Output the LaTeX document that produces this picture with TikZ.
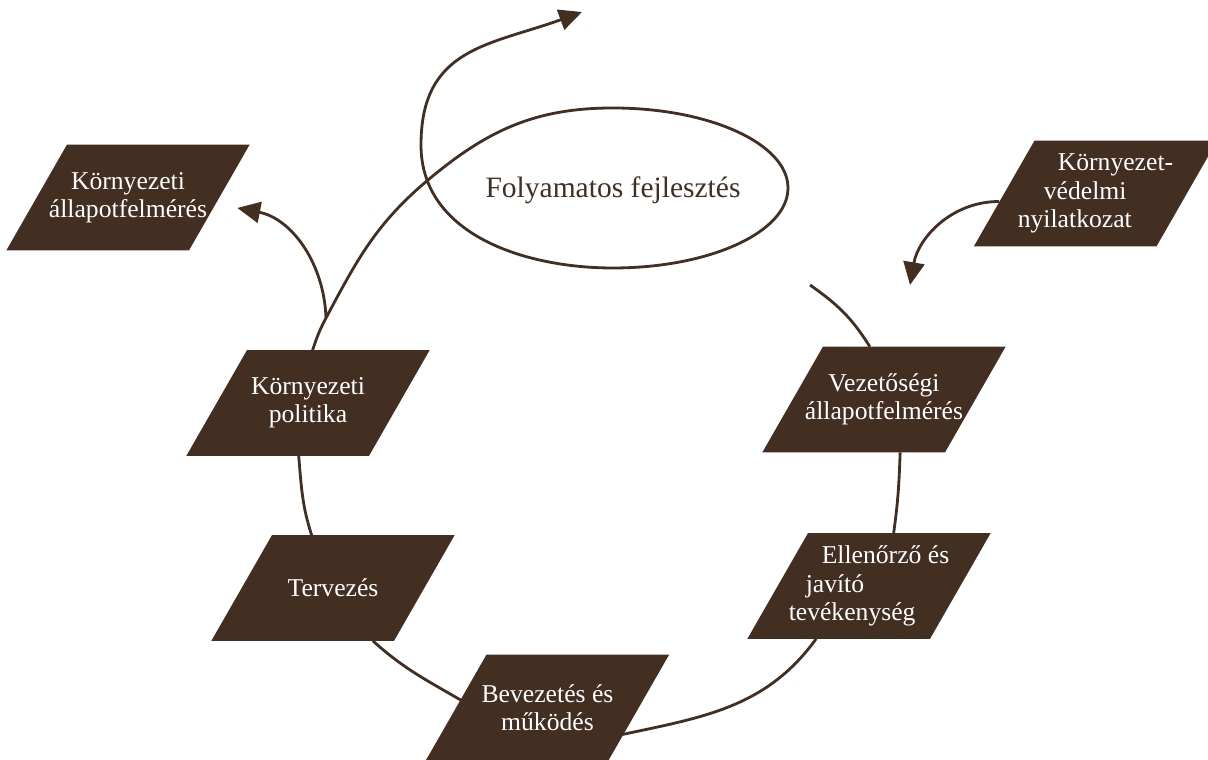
\documentclass[tikz,border=0pt]{standalone}
\usepackage{fontspec}
\setmainfont{Liberation Serif}
\usetikzlibrary{arrows.meta, calc, backgrounds}
\definecolor{barna}{RGB}{67,46,34}
\tikzset{
    lepes/.style={rectangle, minimum width=3.64cm, minimum height=2.1cm,
        inner sep=0pt, text=white, align=center,
        font=\fontsize{14.6}{16.2}\selectfont},
    vonal/.style={barna, line width=1.6pt},
    hegyes/.style={vonal, -{Triangle[length=13pt, width=12pt]}}
}

\begin{document}
\begin{tikzpicture}[x=0.02cm, y=0.02cm]
        \useasboundingbox (0, 0) rectangle (1208, 760);
        \node[lepes] (kap) at (128, 562.5) {Környezeti\\állapotfelmérés};
        \node[lepes] (pol) at (308, 357) {Környezeti\\politika};
        \node[lepes] (terv) at (333, 172) {Tervezés};
        \node[lepes] (bev) at (547.5, 52.5) {Bevezetés és\\működés};
        \node[lepes, align=left] (ell) at (869, 174)
            {\hspace*{0.66cm}Ellenőrző és\\\hspace*{0.34cm}javító\\tevékenység};
        \node[lepes] (vez) at (884, 360.5) {Vezetőségi\\állapotfelmérés};
        \node[lepes, align=left] (nyil) at (1095.5, 566.5)
            {\hspace*{0.8cm}Környezet-\\\hspace*{0.52cm}védelmi\\nyilatkozat};
        \node[text=barna, font=\fontsize{16.8}{18}\selectfont] (fejl) at (613, 570)
            {Folyamatos fejlesztés};
        % ferde dobozok a szovegek mogott
        \begin{scope}[on background layer]
            \foreach \n in {kap, pol, terv, bev, ell, vez, nyil}
                \fill[barna] ($(\n.south west)+(-30.3, 0)$) -- ($(\n.south east)+(-30.3, 0)$)
                    -- ($(\n.north east)+(30.3, 0)$) -- ($(\n.north west)+(30.3, 0)$) -- cycle;
        \end{scope}
        % a hurok pontjai
        \coordinate (elag) at (326, 442);
        \coordinate (metsz) at (428, 580);
        \coordinate (felso) at (613, 652);
        \coordinate (bal) at (421, 615);
        \coordinate (csucs) at (582, 748);
        \coordinate (be) at (910, 475);
        \coordinate (veg) at (810, 475);
        \draw[hegyes] (pol.85) to[out=72, in=-118] (elag) to[out=62, in=-140] (metsz)
            to[out=40, in=180] (felso)
            arc[start angle=90, end angle=-90, x radius=175, y radius=80]
            to[out=180, in=-90] (bal) to[out=90, in=200, looseness=1.2] (csucs);
        \draw[hegyes] (elag) to[out=92, in=-11] ($(kap.east)+(18, -10.5)$);
        \draw[hegyes] ($(nyil.west)+(-5, -8)$) to[out=180, in=80] (be);
        % a ciklus
        \draw[vonal] (pol.-100) to[out=-85, in=108] (terv.112);
        \draw[vonal] (terv.-53) to[out=-42, in=150] ($(bev.west)+(4.5, 7.5)$);
        \draw[vonal] ($(bev.east)+(-16.5, -27)$) to[out=12, in=-126] (ell.225);
        \draw[vonal] (ell.65) to[out=82, in=-92] (vez.-73);
        \draw[vonal] (vez.105) to[out=122, in=-35] (veg);
\end{tikzpicture}
\end{document}
